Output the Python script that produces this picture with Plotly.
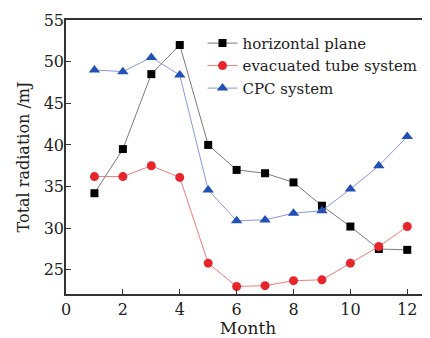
import plotly.graph_objects as go

months = [1, 2, 3, 4, 5, 6, 7, 8, 9, 10, 11, 12]
horizontal_plane = [34.2, 39.5, 48.5, 52.0, 40.0, 37.0, 36.6, 35.5, 32.7, 30.2, 27.5, 27.4]
evacuated_tube = [36.2, 36.2, 37.5, 36.1, 25.8, 23.0, 23.1, 23.7, 23.8, 25.8, 27.8, 30.2]
cpc_system = [49.0, 48.8, 50.5, 48.4, 34.6, 30.9, 31.0, 31.8, 32.1, 34.7, 37.5, 41.0]

FONT = "DejaVu Serif"

fig = go.Figure()
fig.add_trace(go.Scatter(
    x=months, y=horizontal_plane, name="horizontal plane", mode="lines+markers",
    line=dict(color="#7a7a7a", width=1),
    marker=dict(symbol="square", size=8, color="#000000")))
fig.add_trace(go.Scatter(
    x=months, y=evacuated_tube, name="evacuated tube system", mode="lines+markers",
    line=dict(color="#f07a7a", width=1),
    marker=dict(symbol="circle", size=9, color="#e8252b")))
fig.add_trace(go.Scatter(
    x=months, y=cpc_system, name="CPC system", mode="lines+markers",
    line=dict(color="#8a96e0", width=1),
    marker=dict(symbol="triangle-up", size=10, color="#2351b3")))

# page body has an 8px default margin, so the figure is sized to fit inside it
fig.update_layout(
    width=422, height=330,
    margin=dict(l=58, r=0, t=12, b=44, autoexpand=False),
    paper_bgcolor="white", plot_bgcolor="white",
    font=dict(family=FONT, color="#222222", size=16),
    showlegend=True,
    legend=dict(x=0.375, y=0.975, xanchor="left", yanchor="top",
                bgcolor="rgba(0,0,0,0)", font=dict(family=FONT, size=15),
                tracegroupgap=0, itemwidth=30),
    xaxis=dict(range=[0, 12.8], tickvals=[0, 2, 4, 6, 8, 10, 12],
               showgrid=False, zeroline=False, showline=True, linecolor="#333333",
               linewidth=1.5, mirror=True, ticks="inside", ticklen=5,
               tickcolor="#333333", automargin=False,
               title=dict(text="Month", font=dict(family=FONT, size=17), standoff=2)),
    yaxis=dict(range=[22.1, 55], tickvals=[25, 30, 35, 40, 45, 50, 55],
               showgrid=False, zeroline=False, showline=True, linecolor="#333333",
               linewidth=1.5, mirror=False, ticks="inside", ticklen=5,
               tickcolor="#333333", automargin=False, ticklabelstandoff=-3,
               title=dict(text="Total radiation /mJ", font=dict(family=FONT, size=16), standoff=10)),
)

fig.write_html("out.html")
